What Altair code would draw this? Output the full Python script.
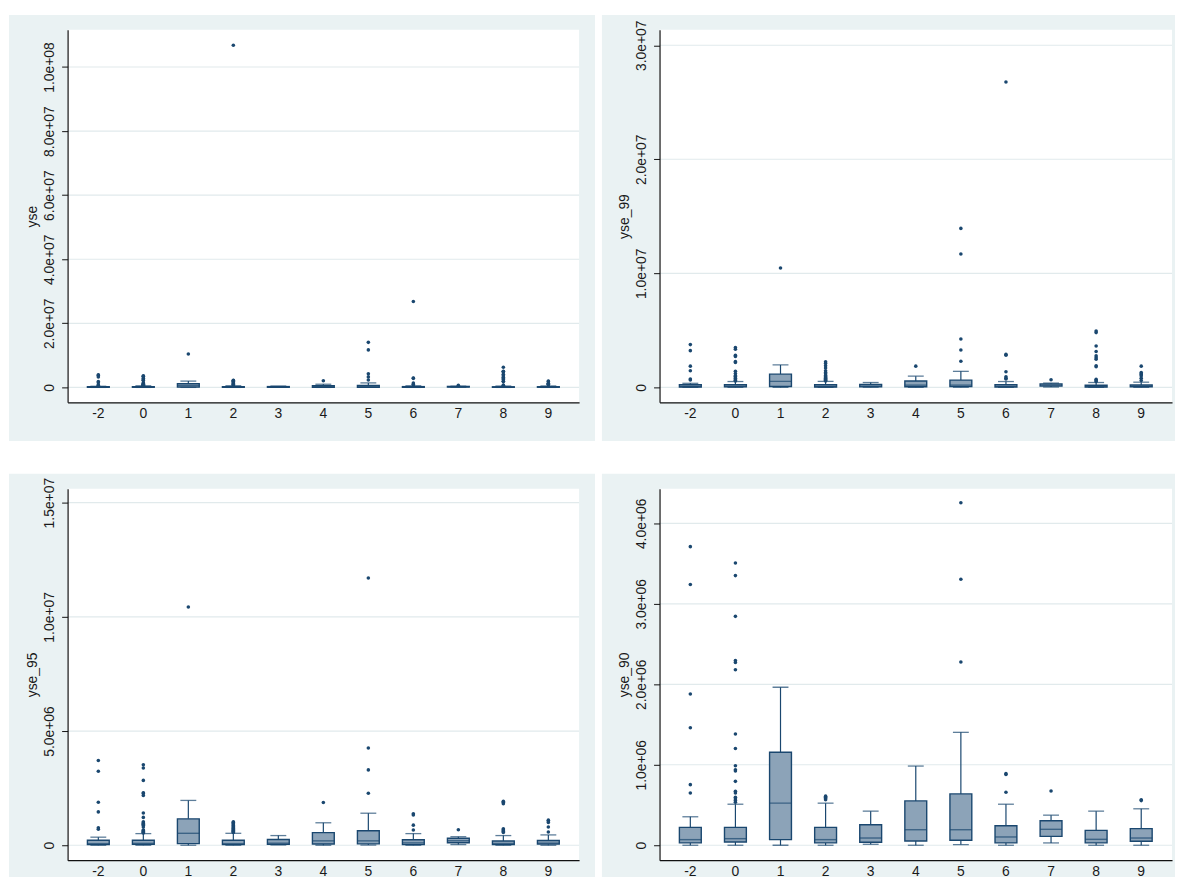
import altair as alt
import pandas as pd

# ---------------- data (values in millions) ----------------
groups = ["-2", "0", "1", "2", "3", "4", "5", "6", "7", "8", "9"]

whisker_low = [0.0, 0.0, 0.0, 0.0, 0.012, 0.0, 0.008, 0.0, 0.029, 0.0, 0.0]
q1 = [0.029, 0.041, 0.070, 0.029, 0.037, 0.053, 0.062, 0.029, 0.111, 0.029, 0.049]
median = [0.070, 0.082, 0.523, 0.070, 0.090, 0.193, 0.193, 0.103, 0.198, 0.074, 0.090]
q3 = [0.222, 0.222, 1.156, 0.222, 0.255, 0.551, 0.638, 0.243, 0.305, 0.185, 0.206]
whisker_high = [0.354, 0.510, 1.963, 0.523, 0.424, 0.984, 1.403, 0.510, 0.374, 0.424, 0.453]

out_yse = [
    [3.9, 3.75, 3.22, 1.86, 1.45, 0.73, 0.64],
    [3.6, 3.49, 3.34, 2.82, 2.3, 2.27, 2.18, 1.41, 1.22, 1.03, 0.95, 0.9, 0.8, 0.67, 0.6, 0.56],
    [10.44],
    [106.8, 2.24, 2.1, 1.9, 1.7, 1.45, 1.2, 1.0, 0.8, 0.6],
    [],
    [2.07],
    [14.06, 11.7, 4.24, 3.28, 2.29],
    [26.8, 2.9, 2.82, 1.37, 0.93, 0.8],
    [0.67],
    [6.3, 5.06, 4.94, 4.8, 4.1, 3.63, 3.14, 2.76, 2.47, 1.89, 1.8, 0.7, 0.6],
    [2.0, 1.86, 1.3, 1.1, 1.0, 0.8],
]
out_yse_99 = [
    [3.75, 3.22, 1.86, 1.45, 0.73, 0.64],
    [3.49, 3.34, 2.82, 2.7, 2.27, 2.18, 1.41, 1.22, 1.03, 0.95, 0.9, 0.8, 0.67, 0.6, 0.56],
    [10.46],
    [2.24, 2.1, 1.9, 1.7, 1.45, 1.3, 1.2, 1.05, 0.95, 0.87, 0.8, 0.7, 0.62, 0.56],
    [],
    [1.86],
    [13.94, 11.7, 4.24, 3.28, 2.29],
    [26.78, 2.9, 2.82, 1.37, 0.93, 0.8, 0.73],
    [0.67],
    [4.94, 4.8, 3.63, 3.14, 2.76, 2.6, 2.47, 1.89, 1.8, 0.7, 0.6, 0.52],
    [1.86, 1.3, 1.2, 1.1, 1.0, 0.8, 0.6],
]
out_yse_95 = [
    [3.71, 3.24, 1.88, 1.46, 0.77, 0.70],
    [3.52, 3.38, 2.84, 2.3, 2.27, 2.18, 1.41, 1.22, 1.03, 0.98, 0.95, 0.92, 0.88, 0.8, 0.67, 0.65, 0.6, 0.58, 0.56, 0.54],
    [10.43],
    [1.03, 1.0, 0.97, 0.94, 0.9, 0.86, 0.82, 0.78, 0.74, 0.7, 0.66, 0.62, 0.6, 0.58, 0.56],
    [],
    [1.87],
    [11.7, 4.26, 3.3, 2.28],
    [1.38, 1.33, 0.88, 0.67],
    [0.68],
    [1.93, 1.88, 1.82, 0.72, 0.68, 0.64, 0.6, 0.56],
    [1.1, 1.06, 1.0, 0.8, 0.58],
]
out_yse_90 = [
    [3.71, 3.24, 1.88, 1.46, 0.753, 0.65],
    [3.506, 3.35, 2.844, 2.296, 2.272, 2.181, 1.383, 1.202, 0.988, 0.938, 0.922, 0.794, 0.671, 0.65, 0.597, 0.576, 0.556, 0.535],
    [],
    [0.61, 0.595, 0.58, 0.565],
    [],
    [],
    [4.255, 3.305, 2.276],
    [0.89, 0.88, 0.658],
    [0.675],
    [],
    [0.565, 0.555],
]

ticks_yse = [0, 20, 40, 60, 80, 100]
labels_yse = ["0", "2.0e+07", "4.0e+07", "6.0e+07", "8.0e+07", "1.0e+08"]
ticks_yse_99 = [0, 10, 20, 30]
labels_yse_99 = ["0", "1.0e+07", "2.0e+07", "3.0e+07"]
ticks_yse_95 = [0, 5, 10, 15]
labels_yse_95 = ["0", "5.0e+06", "1.0e+07", "1.5e+07"]
ticks_yse_90 = [0, 1, 2, 3, 4]
labels_yse_90 = ["0", "1.0e+06", "2.0e+06", "3.0e+06", "4.0e+06"]

# ---------------- styling ----------------
BG = "#EAF2F3"
GRID = "#E1EAEC"
NAVY = "#1A476F"
BOXFILL = "#8CA3B8"
TXT = "#1a1a1a"
FONT = "Liberation Sans"
FS = 14
M = 1e6


def label_expr(ticks, labels):
    expr = "''"
    for t, l in reversed(list(zip(ticks, labels))):
        expr = f"abs(datum.value - {t * M}) < 1 ? '{l}' : ({expr})"
    return expr


def panel(title, outliers, ticks, labels, domain, W, H, bg):
    box = pd.DataFrame({
        "g": groups,
        "wlo": [v * M for v in whisker_low],
        "q1": [v * M for v in q1],
        "med": [v * M for v in median],
        "q3": [v * M for v in q3],
        "whi": [v * M for v in whisker_high],
    })
    out = pd.DataFrame(
        [(g, v * M) for g, vals in zip(groups, outliers) for v in vals],
        columns=["g", "v"],
    )
    grid = pd.DataFrame({"t": [t * M for t in ticks]})
    one = pd.DataFrame({"a": [0]})

    xs = alt.Scale(type="band", domain=groups, paddingInner=0, paddingOuter=0.183)
    xaxis = alt.Axis(
        ticks=False, grid=False, labelAngle=0, labelPadding=4,
        labelFont=FONT, labelFontSize=FS, labelColor=TXT,
        domainColor="#111", domainWidth=1.2, zindex=1,
    )
    X = alt.X("g:N", sort=groups, scale=xs, axis=xaxis, title=None)

    ys = alt.Scale(domain=[domain[0] * M, domain[1] * M], nice=False, zero=False)
    yaxis = alt.Axis(
        values=[t * M for t in ticks], labelExpr=label_expr(ticks, labels),
        grid=False, labelAngle=270, labelAlign="center", labelBaseline="bottom",
        labelPadding=5, labelOverlap=False, labelFont=FONT, labelFontSize=FS,
        labelColor=TXT, tickSize=6, tickColor="#111", tickWidth=1,
        domainColor="#111", domainWidth=1.2, zindex=1,
        titleFont=FONT, titleFontSize=FS, titleFontWeight="normal",
        titleColor=TXT, titlePadding=3,
    )

    def Y(field):
        return alt.Y(f"{field}:Q", scale=ys, axis=yaxis, title=title)

    bg_layer = alt.Chart(one).mark_rect(fill=BG).encode(
        x=alt.value(bg[0]), x2=alt.value(bg[1]), y=alt.value(bg[2]), y2=alt.value(bg[3])
    )
    white = alt.Chart(one).mark_rect(fill="white").encode(
        x=alt.value(0), x2=alt.value(W), y=alt.value(0), y2=alt.value(H)
    )
    gridl = alt.Chart(grid).mark_rule(color=GRID, strokeWidth=1.2).encode(y=Y("t"))

    base = alt.Chart(box)
    wl = base.mark_rule(color=NAVY, strokeWidth=1.2).encode(x=X, y=Y("wlo"), y2="q1")
    wh = base.mark_rule(color=NAVY, strokeWidth=1.2).encode(x=X, y=Y("q3"), y2="whi")
    bx = base.mark_bar(
        width=alt.RelativeBandSize(0.485), fill=BOXFILL, stroke=NAVY, strokeWidth=1.4
    ).encode(x=X, y=Y("q1"), y2="q3")
    md = base.mark_tick(color=NAVY, size=22, thickness=1.4, orient="horizontal").encode(x=X, y=Y("med"))
    c1 = base.mark_tick(color=NAVY, size=16, thickness=1.3, orient="horizontal").encode(x=X, y=Y("wlo"))
    c2 = base.mark_tick(color=NAVY, size=16, thickness=1.3, orient="horizontal").encode(x=X, y=Y("whi"))
    pts = alt.Chart(out).mark_circle(color=NAVY, size=13, opacity=1).encode(x=X, y=Y("v"))

    return alt.layer(bg_layer, white, gridl, wl, wh, bx, md, c1, c2, pts).properties(width=W, height=H)


tl = panel("yse", out_yse, ticks_yse, labels_yse, (-4.65, 111.6), 515, 375, (-59, 531, -15, 414))
tr = panel("yse_99", out_yse_99, ticks_yse_99, labels_yse_99, (-1.31, 31.35), 516, 375, (-58, 519, -15, 414))
bl = panel("yse_95", out_yse_95, ticks_yse_95, labels_yse_95, (-0.652, 15.61), 515, 374, (-59, 531, -15, 391))
br = panel("yse_90", out_yse_90, ticks_yse_90, labels_yse_90, (-0.185, 4.43), 516, 374, (-58, 519, -15, 391))

chart = alt.vconcat(
    alt.hconcat(tl, tr, spacing=7),
    alt.hconcat(bl, br, spacing=7),
    spacing=33,
).properties(
    padding={"left": 1, "top": 4, "right": 0, "bottom": 0},
    background="white",
).configure_view(stroke=None)

chart.save("out.html", embed_options={"renderer": "svg", "actions": False})
